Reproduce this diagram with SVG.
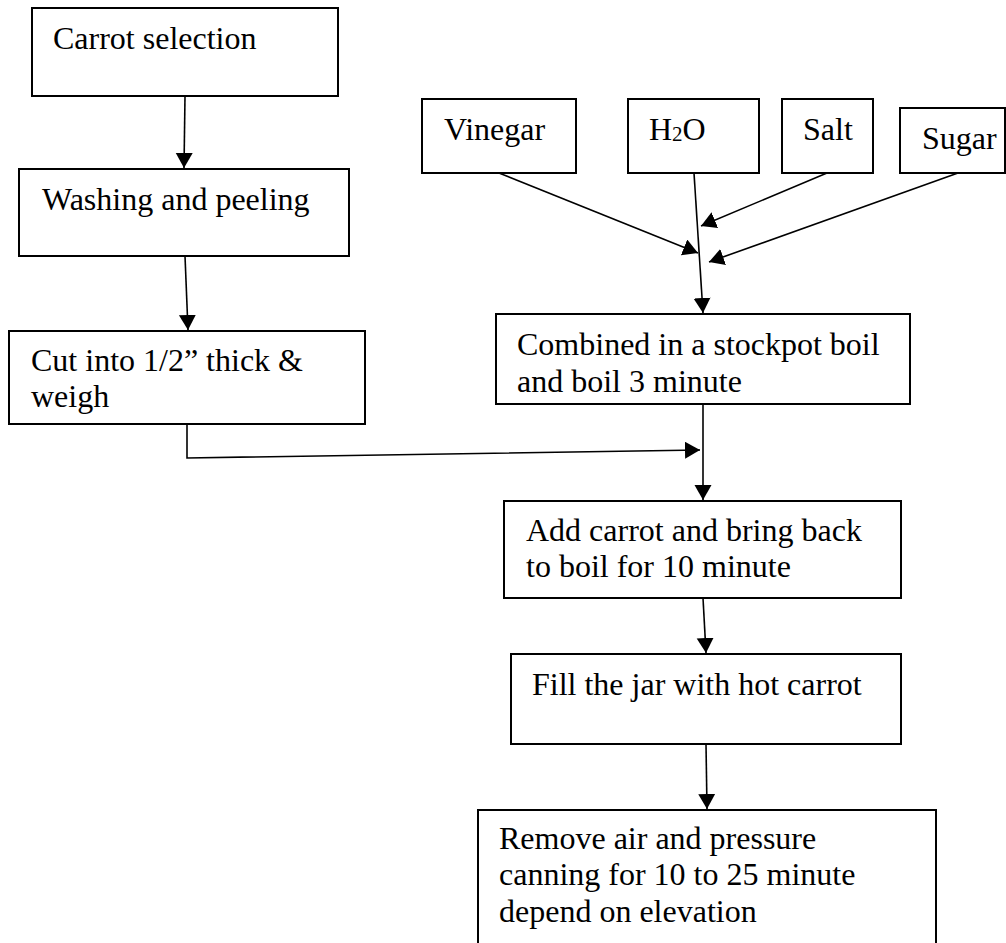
<svg xmlns="http://www.w3.org/2000/svg" width="1006" height="943" viewBox="0 0 1006 943">
<style>
.box{fill:#fff;stroke:#000;stroke-width:2}
.t{font-family:"Liberation Serif","Times New Roman",serif;font-size:32px;fill:#000}
.c{fill:none;stroke:#000;stroke-width:1.6}
</style>
<defs>
<marker id="ah" markerUnits="userSpaceOnUse" markerWidth="16" markerHeight="18" refX="15" refY="8.5" orient="auto">
<path d="M0,0 L15,8.5 L0,17 z" fill="#000"/>
</marker>
</defs>
<rect width="1006" height="943" fill="#fff"/>
<g id="carrot-selection"><rect class="box" x="32" y="8" width="306" height="88"/><text class="t" x="53" y="49">Carrot selection</text></g>
<g id="washing"><rect class="box" x="19" y="169" width="330" height="87"/><text class="t" x="42" y="210">Washing and peeling</text></g>
<g id="cut"><rect class="box" x="9" y="331" width="356" height="93"/><text class="t" x="31" y="371">Cut into 1/2” thick &amp;</text><text class="t" x="31" y="407">weigh</text></g>
<g id="vinegar"><rect class="box" x="422" y="99" width="154" height="74"/><text class="t" x="444" y="140">Vinegar</text></g>
<g id="h2o"><rect class="box" x="628" y="99" width="131" height="74"/><text class="t" x="649" y="140">H<tspan font-size="21" dy="1">2</tspan><tspan dy="-1">O</tspan></text></g>
<g id="salt"><rect class="box" x="782" y="99" width="91" height="74"/><text class="t" x="803" y="140">Salt</text></g>
<g id="sugar"><rect class="box" x="900" y="108" width="105" height="65"/><text class="t" x="922" y="149">Sugar</text></g>
<g id="combined"><rect class="box" x="496" y="314" width="414" height="90"/><text class="t" x="517" y="355">Combined in a stockpot boil</text><text class="t" x="517" y="392">and boil 3 minute</text></g>
<g id="add-carrot"><rect class="box" x="504" y="501" width="397" height="97"/><text class="t" x="526" y="541">Add carrot and bring back</text><text class="t" x="526" y="577">to boil for 10 minute</text></g>
<g id="fill-jar"><rect class="box" x="511" y="654" width="390" height="90"/><text class="t" x="532" y="695">Fill the jar with hot carrot</text></g>
<g id="remove-air"><rect class="box" x="478" y="810" width="458" height="160"/><text class="t" x="499" y="849">Remove air and pressure</text><text class="t" x="499" y="885">canning for 10 to 25 minute</text><text class="t" x="499" y="922">depend on elevation</text></g>
<g id="connectors">
<line class="c" x1="185" y1="96" x2="184" y2="168" marker-end="url(#ah)"/>
<line class="c" x1="185" y1="256" x2="188" y2="330" marker-end="url(#ah)"/>
<line class="c" x1="499" y1="173" x2="698" y2="253" marker-end="url(#ah)"/>
<line class="c" x1="694" y1="173" x2="703" y2="313" marker-end="url(#ah)"/>
<line class="c" x1="827" y1="173" x2="701" y2="226" marker-end="url(#ah)"/>
<line class="c" x1="958" y1="173" x2="709" y2="262" marker-end="url(#ah)"/>
<polyline class="c" points="187,424 187,458 700,450" marker-end="url(#ah)"/>
<line class="c" x1="703" y1="404" x2="703" y2="500" marker-end="url(#ah)"/>
<line class="c" x1="703" y1="598" x2="706" y2="653" marker-end="url(#ah)"/>
<line class="c" x1="706" y1="744" x2="707" y2="809" marker-end="url(#ah)"/>
</g>
</svg>
